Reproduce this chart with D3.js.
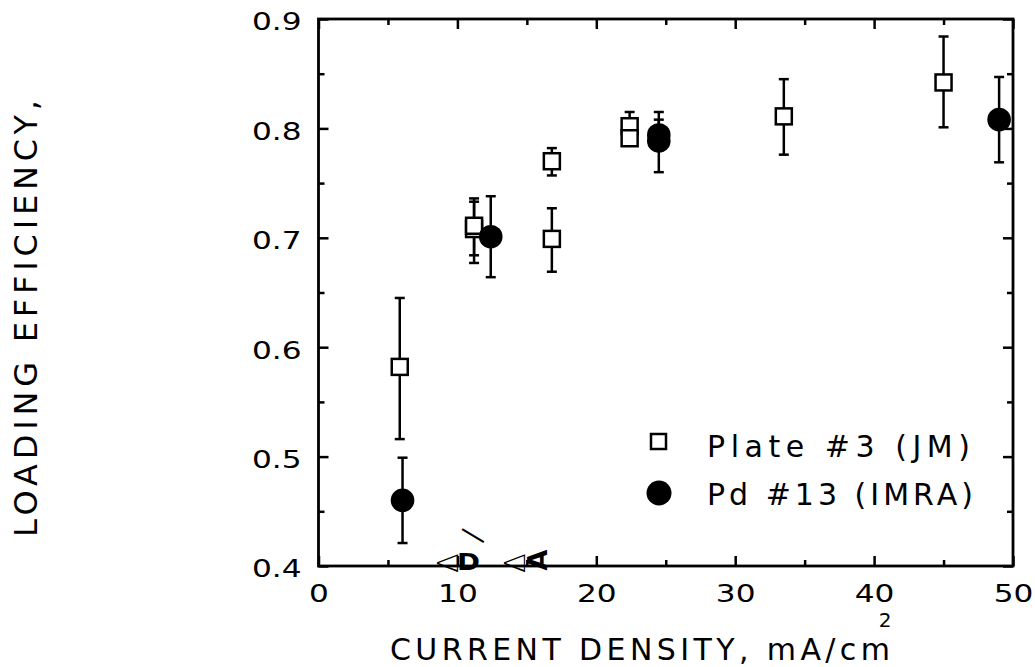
<!DOCTYPE html>
<html>
<head>
<meta charset="utf-8">
<script src="https://cdn.jsdelivr.net/npm/d3@7"></script>
<style>
  body { margin: 0; background: #fff; }
  svg { display: block; }
  text { font-family: "DejaVu Sans", sans-serif; fill: #000; }
</style>
</head>
<body>
<div id="chart"></div>
<script>
// --- Data ---
const xTicks = [0, 10, 20, 30, 40, 50];
const xMinor = [5, 15, 25, 35, 45];
const yTicks = [0.4, 0.5, 0.6, 0.7, 0.8, 0.9];
const yMinor = [0.45, 0.55, 0.65, 0.75, 0.85];

// Plate #3 (JM) - open squares
const plateX  = [5.85, 11.2, 11.2, 16.8, 16.8, 22.4, 22.4, 33.5, 45.0];
const plateY  = [0.582, 0.708, 0.711, 0.770, 0.699, 0.802, 0.791, 0.811, 0.842];
const plateLo = [0.516, 0.677, 0.684, 0.757, 0.669, 0.790, 0.785, 0.776, 0.801];
const plateHi = [0.645, 0.733, 0.736, 0.782, 0.727, 0.815, 0.797, 0.845, 0.884];

// Pd #13 (IMRA) - filled circles
const pdX  = [6.05, 12.4, 24.5, 24.5, 49.0];
const pdY  = [0.460, 0.701, 0.794, 0.7885, 0.808];
const pdLo = [0.421, 0.664, 0.780, 0.760, 0.769];
const pdHi = [0.499, 0.738, 0.815, 0.808, 0.847];

const legendLabels = ["Plate #3 (JM)", "Pd #13 (IMRA)"];
const xTitle = "CURRENT DENSITY, mA/cm";
const yTitle = "LOADING EFFICIENCY,";

// stray symbol glyphs left on the x axis (x in data units = anchor)
const strayGlyphs = [
  { ch: "\u0394", x: 10.04 },
  { ch: "D",      x: 10.04 },
  { ch: "\u2014", x: 9.97 },
  { ch: "\u0394", x: 14.85 },
  { ch: "A",      x: 16.45 }
];

// --- Layout ---
const W = 1035, H = 667;
const L = 318.5, R = 1013, T = 19, B = 566;

const svg = d3.select('#chart').append('svg').attr('width', W).attr('height', H);

const x = d3.scaleLinear().domain([0, 50]).range([L, R]);
const y = d3.scaleLinear().domain([0.4, 0.9]).range([B, T]);

// ticks on all four sides, pointing inward
const axG = svg.append('g');
function addAxis(gen, scale, vals, size, tr, labels) {
  const a = gen(scale).tickValues(vals).tickSize(-size).tickFormat(labels ? null : '');
  const g = axG.append('g').attr('transform', tr).call(a);
  g.select('.domain').remove();
  g.selectAll('.tick line').attr('stroke', '#000').attr('stroke-width', 2.5);
  return g;
}

const gxB = addAxis(d3.axisBottom, x, xTicks, 10, `translate(0,${B})`, true);
addAxis(d3.axisBottom, x, xMinor, 6, `translate(0,${B})`, false);
addAxis(d3.axisTop, x, xTicks, 10, `translate(0,${T})`, false);
addAxis(d3.axisTop, x, xMinor, 6, `translate(0,${T})`, false);
const gyL = addAxis(d3.axisLeft, y, yTicks, 10, `translate(${L},0)`, true);
addAxis(d3.axisLeft, y, yMinor, 6, `translate(${L},0)`, false);
addAxis(d3.axisRight, y, yTicks, 10, `translate(${R},0)`, false);
addAxis(d3.axisRight, y, yMinor, 6, `translate(${R},0)`, false);

const sx = 1.3; // the original digits are round and wide
gxB.selectAll('.tick text')
  .attr('font-family', '"DejaVu Sans", sans-serif')
  .attr('font-size', 24).attr('fill', '#000')
  .attr('y', 19).attr('dy', '0.72em')
  .attr('transform', `scale(${sx},1)`)
  .text(d => d3.format('d')(d));
gyL.selectAll('.tick text')
  .attr('font-family', '"DejaVu Sans", sans-serif')
  .attr('font-size', 24).attr('fill', '#000')
  .attr('x', -17 / sx).attr('dy', '0.45em')
  .attr('transform', `scale(${sx},1)`)
  .text(d => d3.format('.1f')(d));

// frame
svg.append('rect')
  .attr('x', L).attr('y', T).attr('width', R - L).attr('height', B - T)
  .attr('fill', 'none').attr('stroke', '#000').attr('stroke-width', 2.8);

// --- Error bars + markers ---
function errorBars(xs, lo, hi) {
  const g = svg.append('g').attr('stroke', '#000').attr('stroke-width', 2.5);
  xs.forEach((xv, i) => {
    const cx = x(xv);
    g.append('line').attr('x1', cx).attr('x2', cx).attr('y1', y(lo[i])).attr('y2', y(hi[i]));
    g.append('line').attr('x1', cx - 5).attr('x2', cx + 5).attr('y1', y(lo[i])).attr('y2', y(lo[i]));
    g.append('line').attr('x1', cx - 5).attr('x2', cx + 5).attr('y1', y(hi[i])).attr('y2', y(hi[i]));
  });
}

const sq = 16;
errorBars(plateX, plateLo, plateHi);
svg.append('g').selectAll('rect')
  .data(plateX.map((d, i) => [d, plateY[i]]))
  .join('rect')
  .attr('x', d => x(d[0]) - sq / 2).attr('y', d => y(d[1]) - sq / 2)
  .attr('width', sq).attr('height', sq)
  .attr('fill', '#fff').attr('stroke', '#000').attr('stroke-width', 2.5);

errorBars(pdX, pdLo, pdHi);
svg.append('g').selectAll('circle')
  .data(pdX.map((d, i) => [d, pdY[i]]))
  .join('circle')
  .attr('cx', d => x(d[0])).attr('cy', d => y(d[1])).attr('r', 11.8)
  .attr('fill', '#000');

// --- Legend ---
const lg = svg.append('g');
lg.append('rect').attr('x', 651).attr('y', 434).attr('width', 15).attr('height', 15)
  .attr('fill', '#fff').attr('stroke', '#000').attr('stroke-width', 2.5);
lg.append('circle').attr('cx', 659).attr('cy', 493).attr('r', 12.5).attr('fill', '#000');
lg.selectAll('text').data(legendLabels).join('text')
  .attr('x', 707).attr('y', (d, i) => 457 + i * 48)
  .attr('font-size', 30)
  .attr('textLength', (d, i) => i === 0 ? 263 : 266)
  .attr('lengthAdjust', 'spacing')
  .text(d => d);

// --- Axis titles ---
svg.append('text')
  .attr('x', 390).attr('y', 660)
  .attr('font-size', 30)
  .attr('textLength', 500).attr('lengthAdjust', 'spacing')
  .text(xTitle);
svg.append('text')
  .attr('x', 885).attr('y', 627)
  .attr('font-size', 20).attr('text-anchor', 'middle')
  .text('2');

svg.append('text')
  .attr('transform', 'translate(37,537) rotate(-90)')
  .attr('font-size', 32)
  .attr('textLength', 437).attr('lengthAdjust', 'spacing')
  .text(yTitle);

// stray glyphs on the baseline
strayGlyphs.forEach(gl => {
  const gx = x(gl.x);
  const t = svg.append('text').text(gl.ch);
  if (gl.ch === '\u0394') {
    // open triangle turned to point left
    t.attr('font-size', 29).attr('font-weight', 200).attr('text-anchor', 'middle')
      .attr('transform', `translate(${gx},${B - 3}) rotate(-90)`);
  } else if (gl.ch === 'D') {
    t.attr('font-size', 23).attr('font-weight', 'bold')
      .attr('textLength', 23).attr('lengthAdjust', 'spacingAndGlyphs')
      .attr('transform', `translate(${gx - 1},${B + 4})`);
  } else if (gl.ch === '\u2014') {
    t.attr('font-size', 28)
      .attr('transform', `translate(${gx},${B - 31}) rotate(31)`);
  } else {
    t.attr('font-size', 27).attr('font-weight', 'bold').attr('text-anchor', 'middle')
      .attr('transform', `translate(${gx},${B - 6}) rotate(-90)`);
  }
});
</script>
</body>
</html>
